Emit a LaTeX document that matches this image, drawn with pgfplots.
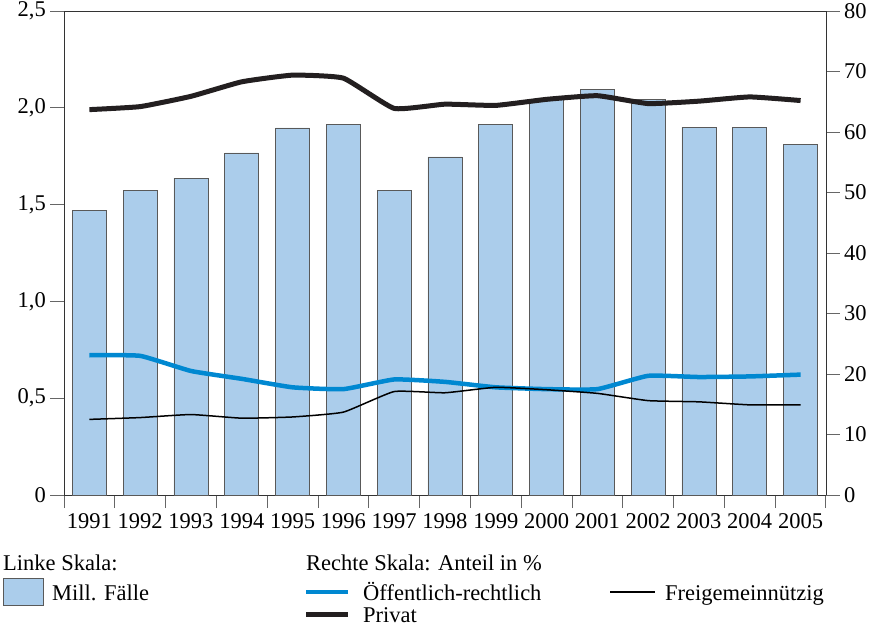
\documentclass[border=0pt]{standalone}
\usepackage{fontspec}
\setmainfont{Liberation Serif}
\usepackage{pgfplots}
\pgfplotsset{compat=1.18}
\definecolor{barblue}{HTML}{ABCDEB}
\definecolor{oeblue}{HTML}{0088D1}
\definecolor{privblk}{HTML}{231F20}

\begin{document}
\fontsize{22.5bp}{26bp}\selectfont
\begin{tikzpicture}
\useasboundingbox (0,0) rectangle (882bp,-628bp);
\pgfplotsset{
  common/.style={
    at={(64bp,-495bp)}, anchor=south west,
    width=762bp, height=484bp, scale only axis,
    xmin=1990.5, xmax=2005.5, ymin=0,
    tick align=outside,
    major tick length=14bp, minor tick length=13bp,
    tick style={black!60, line width=0.9bp},
    axis line style={black!80, line width=0.9bp},
    /pgf/number format/assume math mode=true,
    yticklabel style={inner sep=4bp},
    xticklabel style={inner sep=4bp},
  }
}
% left scale: bars
\begin{axis}[common,
  ymax=2.5,
  xtick={1991,...,2005},
  xticklabels={1991,1992,1993,1994,1995,1996,1997,1998,1999,2000,2001,2002,2003,2004,2005},
  every major x tick/.style={draw=none},
  minor xtick={1990.5,1991.5,...,2005.5},
  xtick pos=lower, ytick pos=left,
  ytick={0,0.5,1,1.5,2,2.5},
  yticklabels={0,{0,5},{1,0},{1,5},{2,0},{2,5}},
]
\addplot[ybar, bar width=0.67, fill=barblue, draw=black!65, line width=0.8bp]
  coordinates {(1991,1.47) (1992,1.575) (1993,1.637) (1994,1.767) (1995,1.896)
  (1996,1.916) (1997,1.575) (1998,1.746) (1999,1.916) (2000,2.045)
  (2001,2.097) (2002,2.045) (2003,1.90) (2004,1.90) (2005,1.81)};
\end{axis}
% right scale: shares in %
\begin{axis}[common,
  ymax=80,
  axis x line=none, axis y line*=right,
  ytick={0,10,...,80},
]
\addplot[oeblue, line width=4.5bp, smooth, tension=0.25, line join=round]
  coordinates {(1991,23.1) (1992,23.0) (1993,20.5) (1994,19.2) (1995,17.8)
  (1996,17.5) (1997,19.1) (1998,18.7) (1999,17.8) (2000,17.5)
  (2001,17.5) (2002,19.7) (2003,19.5) (2004,19.6) (2005,19.9)};
\addplot[black, line width=1.5bp, smooth, tension=0.25, line join=round]
  coordinates {(1991,12.5) (1992,12.8) (1993,13.3) (1994,12.7) (1995,12.9)
  (1996,13.7) (1997,17.1) (1998,16.9) (1999,17.8) (2000,17.4)
  (2001,16.8) (2002,15.6) (2003,15.4) (2004,14.9) (2005,14.9)};
\addplot[privblk, line width=5bp, smooth, tension=0.25, line join=round]
  coordinates {(1991,63.7) (1992,64.2) (1993,65.9) (1994,68.3) (1995,69.4)
  (1996,68.9) (1997,63.9) (1998,64.6) (1999,64.4) (2000,65.4)
  (2001,66.0) (2002,64.7) (2003,65.1) (2004,65.8) (2005,65.2)};
\end{axis}
% legend
\node[anchor=base west, inner sep=0] at (3bp,-570bp) {Linke Skala:};
\draw[fill=barblue, draw=black!65, line width=0.8bp] (3bp,-578bp) rectangle (43bp,-605bp);
\node[anchor=base west, inner sep=0] at (52bp,-600bp) {Mill. Fälle};
\node[anchor=base west, inner sep=0] at (306bp,-570bp) {Rechte Skala: Anteil in \%};
\draw[oeblue, line width=4bp] (306bp,-592bp) -- (348bp,-592bp);
\node[anchor=base west, inner sep=0] at (363bp,-600bp) {Öffentlich-rechtlich};
\draw[black, line width=1.5bp] (610bp,-592bp) -- (655bp,-592bp);
\node[anchor=base west, inner sep=0] at (665bp,-600bp) {Freigemeinnützig};
\draw[privblk, line width=5bp] (306bp,-614bp) -- (348bp,-614bp);
\node[anchor=base west, inner sep=0] at (363bp,-622bp) {Privat};
\end{tikzpicture}
\end{document}
